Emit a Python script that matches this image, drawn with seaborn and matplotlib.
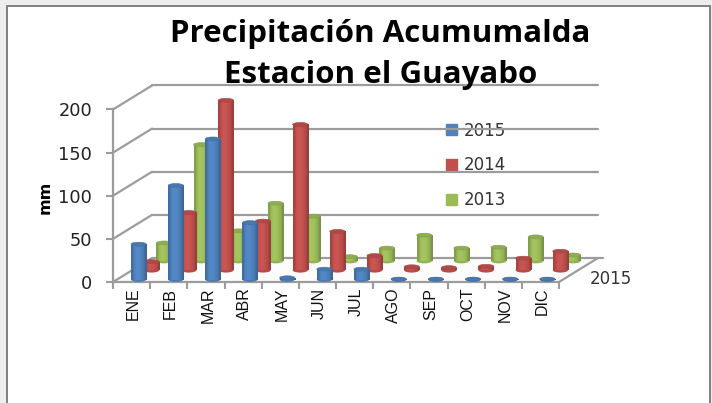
import numpy as np
import pandas as pd
import seaborn as sns
import matplotlib.pyplot as plt
from matplotlib.patches import ConnectionPatch, Ellipse, Patch, Polygon, Rectangle

meses = ['ENE', 'FEB', 'MAR', 'ABR', 'MAY', 'JUN', 'JUL', 'AGO', 'SEP', 'OCT', 'NOV', 'DIC']
lluvia_2015 = [41, 109, 163, 66, 2, 12, 12, 0.5, 0.5, 0.5, 0.5, 0.5]
lluvia_2014 = [10, 67, 197, 57, 169, 45, 17, 4, 3, 4.5, 14, 22]
lluvia_2013 = [21, 135, 35, 67, 52, 5, 15, 30, 15, 16, 28, 7]
ticks_y = [0, 50, 100, 150, 200]

W, H = 712, 403
azul, rojo, verde = '#4f81bd', '#c0504d', '#9bbb59'
gris = '#9c9c9c'

sns.set_theme(style='white')
plt.rcParams['font.family'] = ['DejaVu Sans']

fig = plt.figure(figsize=(W / 100, H / 100), dpi=100, facecolor='#eeeeee')


# axes placed in pixels: left edge and baseline, same scale for every layer
def capa(x0, base, ancho=446, alto=172.5):
    ax = fig.add_axes([x0 / W, 1 - base / H, ancho / W, alto / H])
    ax.patch.set_visible(False)
    return ax


def cilindros(ax, valores, color):
    df = pd.DataFrame({'mes': meses, 'mm': valores})
    sns.barplot(data=df, x='mes', y='mm', color=color, width=0.41, saturation=1,
                linewidth=0, ax=ax)
    c = np.array(plt.matplotlib.colors.to_rgb(color))
    grad = np.array([0.84, 1.0, 1.06, 1.05, 1.0, 0.94, 0.78])
    img = np.clip(grad[None, :, None] * c[None, None, :], 0, 1)
    for barra, v in zip(list(ax.patches), valores):
        x, w = barra.get_x(), barra.get_width()
        medio = x + w / 2
        pie = Ellipse((medio, 0), w, 5.5, facecolor=c * 0.95, linewidth=0, zorder=1, clip_on=False)
        ax.add_patch(pie)
        im = ax.imshow(img, extent=(x, x + w, 0, v), aspect='auto', zorder=2,
                       interpolation='bilinear')
        im.set_clip_path(Rectangle((x, 0), w, v, transform=ax.transData))
        tapa = Ellipse((medio, v), w, 4.5, facecolor=c * 0.92, edgecolor=c * 0.85,
                       linewidth=0.4, zorder=3, clip_on=False)
        ax.add_patch(tapa)
    ax.set_xlim(-0.5, 11.5)
    ax.set_ylim(0, 200)
    ax.axis('off')


# frame and back wall
frente = capa(113, 282)
fondo = capa(152, 258)
for ax in (frente, fondo):
    ax.set_xlim(-0.5, 11.5)
    ax.set_ylim(0, 200)

fondo.set_xticks([])
fondo.set_yticks(ticks_y)
fondo.set_yticklabels([])
fondo.tick_params(left=False)
fondo.grid(axis='y', color=gris, linewidth=1.6)
for linea in fondo.get_ygridlines():
    linea.set_clip_on(False)
fondo.plot([11.5, 11.63], [0, 0], color=gris, linewidth=1.6, clip_on=False)
fondo.set_xlim(-0.5, 11.5)
sns.despine(ax=fondo, left=True, bottom=True)

# floor and side wall lines
a = frente.transData
b = fondo.transData
piso = [a.transform((-0.5, 0)), b.transform((-0.5, 0)), b.transform((11.5, 0)), a.transform((11.5, 0))]
fig.add_artist(Polygon(piso, transform=None, facecolor='#fcfcfc', edgecolor='none', zorder=-3))
for t in ticks_y:
    fig.add_artist(ConnectionPatch((-0.5, t), (-0.5, t), 'data', 'data', axesA=frente, axesB=fondo,
                                   color=gris, linewidth=1.6, zorder=-1))
fig.add_artist(ConnectionPatch((11.5, 0), (11.5, 0), 'data', 'data', axesA=frente, axesB=fondo,
                               color=gris, linewidth=1.6, zorder=-1))

# frame goes under the bars here, the blue ones sit just above the axis line
frente.set_zorder(-0.5)

# back to front so the nearest year covers the others
cilindros(capa(145.5, 261), lluvia_2013, verde)
cilindros(capa(133, 270.2), lluvia_2014, rojo)
cilindros(capa(120, 279.5), lluvia_2015, azul)

frente.set_xticks(np.arange(-0.5, 12))
frente.set_xticklabels([])
frente.set_xticks(np.arange(12) + 0.05, meses, minor=True, rotation=90, fontsize=11.5,
                  family='Liberation Sans', color='#111111')
frente.set_yticks(ticks_y)
frente.set_yticklabels(ticks_y, fontsize=12.8, color='#222222')
frente.tick_params(axis='x', which='major', bottom=True, length=5, width=1.5, color=gris)
frente.tick_params(axis='x', which='minor', bottom=False, pad=0)
frente.tick_params(axis='y', left=True, length=5, width=1.5, color=gris, pad=10)
sns.despine(ax=frente)
for lado in ('left', 'bottom'):
    frente.spines[lado].set_color(gris)
    frente.spines[lado].set_linewidth(1.6)
frente.set_ylabel('mm', fontsize=11.5, fontweight='bold', color='black')
frente.yaxis.set_label_coords((53 - 113) / 446, (282 - 197) / 172.5)

frente.legend(handles=[Patch(color=azul, label='2015'), Patch(color=rojo, label='2014'),
                       Patch(color=verde, label='2013')],
              loc='upper left', bbox_to_anchor=((446 - 113) / 446, 0.93), frameon=False,
              borderpad=0, borderaxespad=0, handlelength=0.66, handleheight=0.66,
              handletextpad=0.4, labelspacing=1.01, labelcolor='#333333', fontsize=12)

fig.text(611 / W, 1 - 279 / H, '2015', ha='center', va='center', fontsize=12, color='#333333')
fig.text(380 / W, 1 - 42 / H, 'Precipitación Acumumalda', ha='center', va='baseline',
         fontsize=22.5, fontweight='bold', family='Open Sans', color='black', zorder=6)
fig.text(381 / W, 1 - 83 / H, 'Estacion el Guayabo', ha='center', va='baseline',
         fontsize=22.5, fontweight='bold', family='Open Sans', color='black', zorder=6)

# white slide panel behind everything, bottom edge runs off the picture
fig.add_artist(Rectangle((7 / W, -10 / H), 703 / W, (H + 4) / H, transform=fig.transFigure,
                         facecolor='white', edgecolor='#808080', linewidth=1.4, zorder=-5))

fig.savefig('out.png', dpi=100, facecolor=fig.get_facecolor())
